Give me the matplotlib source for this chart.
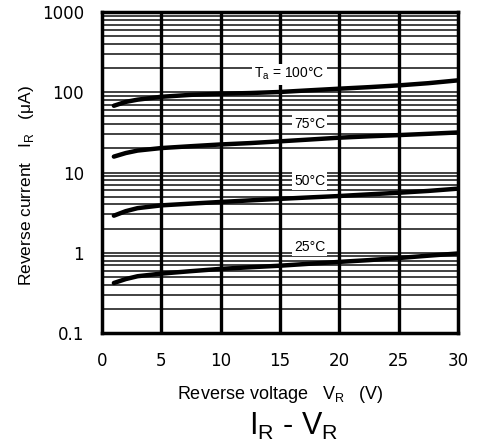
import matplotlib
matplotlib.use("Agg")
import matplotlib.pyplot as plt
import numpy as np

plt.rcParams['font.family'] = ['Liberation Sans', 'DejaVu Sans']

voltage = [1, 2, 3, 5, 7.5, 10, 12.5, 15, 17.5, 20, 22.5, 25, 27.5, 30]
ir_100 = [68, 76, 81, 88, 93, 96, 98, 101, 106, 111, 116, 122, 130, 141]
ir_75 = [15.8, 17.5, 18.8, 20.2, 21.3, 22.4, 23.3, 24.5, 25.8, 27.2, 28.3, 29.3, 30.4, 31.6]
ir_50 = [2.9, 3.3, 3.6, 3.9, 4.1, 4.3, 4.5, 4.7, 4.9, 5.1, 5.35, 5.6, 5.9, 6.3]
ir_25 = [0.42, 0.47, 0.51, 0.55, 0.59, 0.63, 0.66, 0.69, 0.73, 0.77, 0.81, 0.86, 0.92, 0.98]
series = [ir_100, ir_75, ir_50, ir_25]
labels = [r"T$_\mathregular{a}$ = 100°C", "75°C", "50°C", "25°C"]
label_v = [15.8, 17.5, 17.5, 17.5]
label_y = [168, 40, 7.9, 1.19]
xticks = [0, 5, 10, 15, 20, 25, 30]
yticks = [0.1, 1, 10, 100, 1000]
ytick_labels = ["0.1", "1", "10", "100", "1000"]

fig = plt.figure(figsize=(4.8, 4.48), dpi=100)
ax = fig.add_axes([0.2125, 0.2567, 0.7417, 0.7163])
ax.set_yscale('log')
ax.set_xlim(0, 30)
ax.set_ylim(0.1, 1000)

# horizontal grid lines
for dec in [0.1, 1, 10, 100]:
    for m in range(1, 10):
        v = dec * m
        if v <= 0.1 or v >= 1000:
            continue
        ax.axhline(v, color='#333333', lw=1.3, zorder=1)
for xv in xticks[1:-1]:
    ax.axvline(xv, color='black', lw=2.4, zorder=2)

for s in series:
    ax.plot(voltage, s, color='black', lw=3.2, solid_capstyle='round', zorder=4)

for lab, xv, yv in zip(labels, label_v, label_y):
    ax.text(xv, yv, lab, ha='center', va='center', fontsize=10, zorder=3,
            bbox=dict(facecolor='white', edgecolor='none', pad=1.5))

ax.set_xticks(xticks)
ax.set_xticklabels([str(x) for x in xticks], fontsize=12, family='DejaVu Sans')
ax.set_yticks(yticks)
ax.set_yticklabels(ytick_labels, fontsize=12, family='DejaVu Sans')
ax.yaxis.set_minor_locator(matplotlib.ticker.NullLocator())
ax.tick_params(axis='x', length=0, pad=14)
ax.tick_params(axis='y', length=0, pad=13)
for sp in ax.spines.values():
    sp.set_linewidth(2.5)
    sp.set_zorder(5)

ax.set_ylabel(r"Reverse current   I$_\mathregular{R}$   (μA)", fontsize=12.5)
ax.yaxis.set_label_coords(-0.185, 0.46)
ax.set_xlabel(r"Reverse voltage   V$_\mathregular{R}$   (V)", fontsize=13, labelpad=10)
fig.text(0.6125, 0.047, r"I$_\mathregular{R}$ - V$_\mathregular{R}$", fontsize=22, ha='center', va='center')

fig.savefig("out.png", dpi=100)
